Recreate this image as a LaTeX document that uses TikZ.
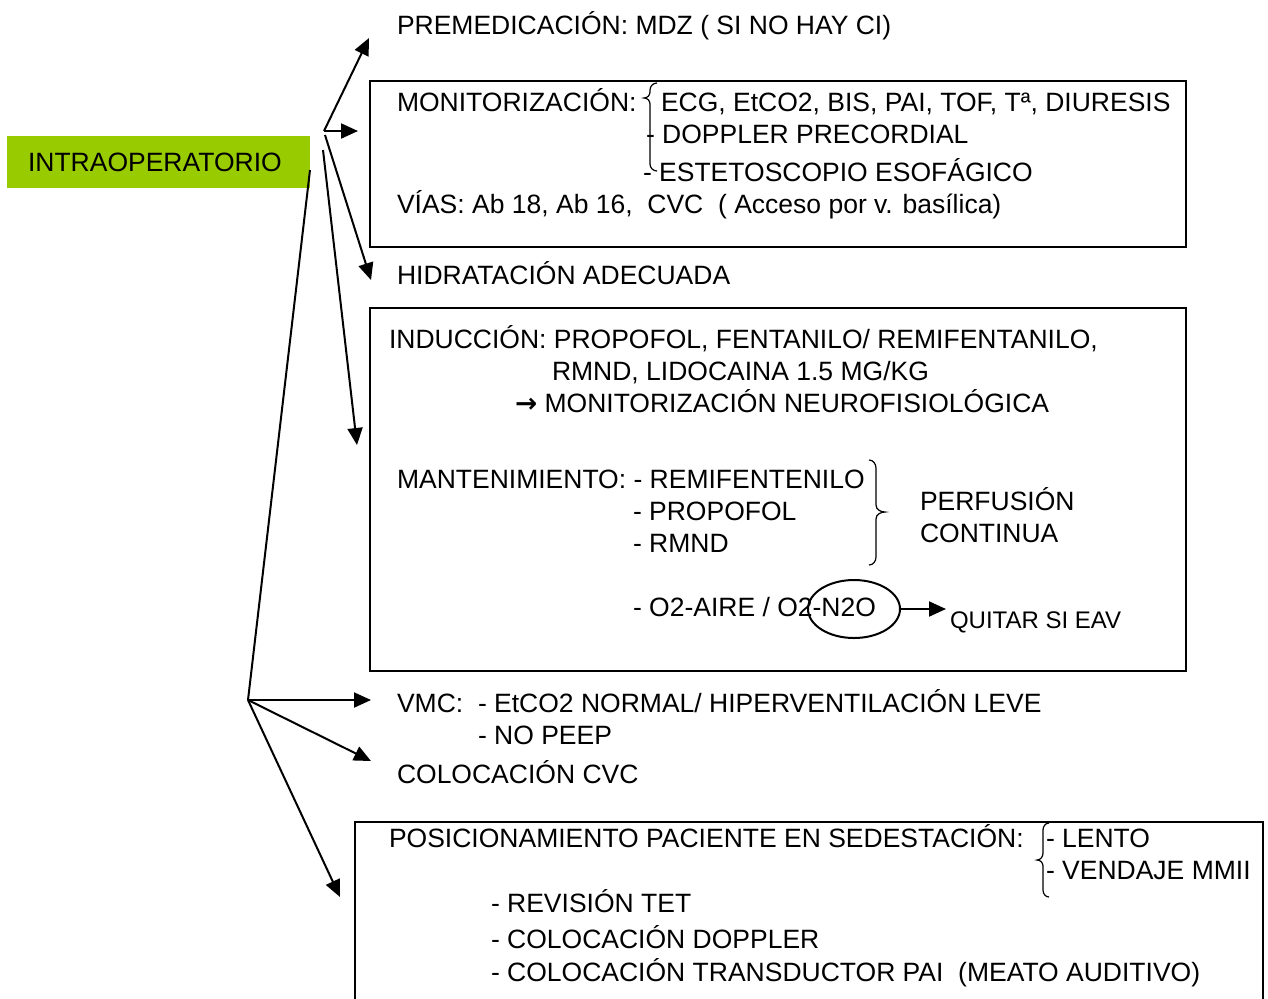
\documentclass[tikz,border=0pt]{standalone}
\usepackage{fontspec}
\setmainfont{Liberation Sans}
\newfontfamily\simbolo{DejaVu Sans}
\usetikzlibrary{arrows.meta,shapes}
\definecolor{verde}{RGB}{153,204,0}

\begin{document}
\begin{tikzpicture}[x=0.5pt, y=-0.5pt, line width=1pt,
    txt/.style={anchor=base west, inner sep=0pt, font=\fontsize{13.25}{15}\selectfont},
    peq/.style={anchor=base west, inner sep=0pt, font=\fontsize{12}{14}\selectfont},
    flecha/.style={-{Triangle[length=8.5pt, width=7.5pt]}},
    llave/.style={line width=0.6pt},
    caja/.style={draw, inner sep=0pt}]
\useasboundingbox (0,0) rectangle (1268,998);
\node [fill=verde, minimum width=151.5pt, minimum height=26pt, inner sep=0pt] (intra) at (158.5,162) {};
\node [txt] (intratxt) at (27,171.5) {INTRAOPERATORIO};

\node [caja, minimum width=408pt, minimum height=83pt] (caja1) at (778,164) {};
\node [caja, minimum width=408pt, minimum height=181.5pt] (caja2) at (778,489.5) {};
\node [caja, minimum width=454pt, minimum height=94pt] (caja3) at (809,916) {};

\node [txt] (premed) at (396,34) {PREMEDICACIÓN: MDZ ( SI NO HAY CI)};
\node [txt] (monit) at (396,111) {MONITORIZACIÓN:};
\node [txt] (ecg) at (660,111) {ECG, EtCO2, BIS, PAI, TOF, Tª, DIURESIS};
\node [txt] (doppler) at (645,143) {- DOPPLER PRECORDIAL};
\node [txt] (esteto) at (642,181) {- ESTETOSCOPIO ESOFÁGICO};
\node [txt] (vias) at (396,213) {VÍAS: Ab 18, Ab 16,\ \ CVC\ \ ( Acceso por v. basílica)};
\node [txt] (hidra) at (396,284) {HIDRATACIÓN ADECUADA};
\node [txt] (induc) at (388,348) {INDUCCIÓN: PROPOFOL, FENTANILO/ REMIFENTANILO,};
\node [txt] (rmnd) at (551,380) {RMND, LIDOCAINA 1.5 MG/KG};
\node [txt] (neuro) at (514,412) {{\simbolo\bfseries →} MONITORIZACIÓN NEUROFISIOLÓGICA};
\node [txt] (mant) at (396,488) {MANTENIMIENTO: - REMIFENTENILO};
\node [txt] (propo) at (632,520) {- PROPOFOL};
\node [txt] (rmnd2) at (632,552) {- RMND};
\node [txt] (perf) at (919,510) {PERFUSIÓN};
\node [txt] (cont) at (919,542) {CONTINUA};
\node [txt] (gases) at (632,616) {- O2-AIRE / O2-N2O};
\node [draw, ellipse, minimum width=46pt, minimum height=29pt, inner sep=0pt] (n2o) at (854,609) {};
\node [peq] (quitar) at (949,628) {QUITAR SI EAV};
\node [txt] (vmc) at (396,712) {VMC:};
\node [txt] (etco2) at (477,712) {- EtCO2 NORMAL/ HIPERVENTILACIÓN LEVE};
\node [txt] (peep) at (477,744) {- NO PEEP};
\node [txt] (cvc) at (396,783) {COLOCACIÓN CVC};
\node [txt] (posic) at (388,847) {POSICIONAMIENTO PACIENTE EN SEDESTACIÓN:};
\node [txt] (lento) at (1045,847) {- LENTO};
\node [txt] (venda) at (1045,879) {- VENDAJE MMII};
\node [txt] (tet) at (490,912) {- REVISIÓN TET};
\node [txt] (coldop) at (490,948) {- COLOCACIÓN DOPPLER};
\node [txt] (transd) at (490,981) {- COLOCACIÓN TRANSDUCTOR PAI\ \ (MEATO AUDITIVO)};

\draw [llave] (657,83) to[out=180, in=90] (650,90) -- (650,92) to[out=-90, in=0] (644,98)
  to[out=0, in=90] (650,104) -- (650,164) to[out=-90, in=180] (657,171);
\draw [llave] (869,460) to[out=0, in=90] (876,468) -- (876,505) to[out=-90, in=180] (885,512)
  to[out=180, in=90] (876,519) -- (876,557) to[out=-90, in=0] (869,565);
\draw [llave] (1049,823) to[out=180, in=90] (1043,830) -- (1043,853) to[out=-90, in=0] (1037,860)
  to[out=0, in=90] (1043,866) -- (1043,890) to[out=-90, in=180] (1049,897);

\coordinate (sal) at (310,170);
\coordinate (nudo1) at (324,131);
\coordinate (nudo1b) at (325,135);
\coordinate (nudo1c) at (323,150);
\coordinate (nudo2) at (248,700);
\coordinate (p1) at (369,38);
\coordinate (p2) at (358,131);
\coordinate (p3) at (371,280);
\coordinate (p4) at (357,445);
\coordinate (p5) at (371,700);
\coordinate (p6) at (371,761);
\coordinate (p7) at (340,897);
\coordinate (p8) at (946,609);

\draw [flecha] (nudo1) -- (p1);
\draw [flecha] (nudo1) -- (p2);
\draw [flecha] (nudo1b) -- (p3);
\draw [flecha] (nudo1c) -- (p4);
\draw (sal) -- (nudo2);
\draw [flecha] (nudo2) -- (p5);
\draw [flecha] (nudo2) -- (p6);
\draw [flecha] (nudo2) -- (p7);
\draw [flecha] (n2o.east) -- (p8);
\end{tikzpicture}
\end{document}
